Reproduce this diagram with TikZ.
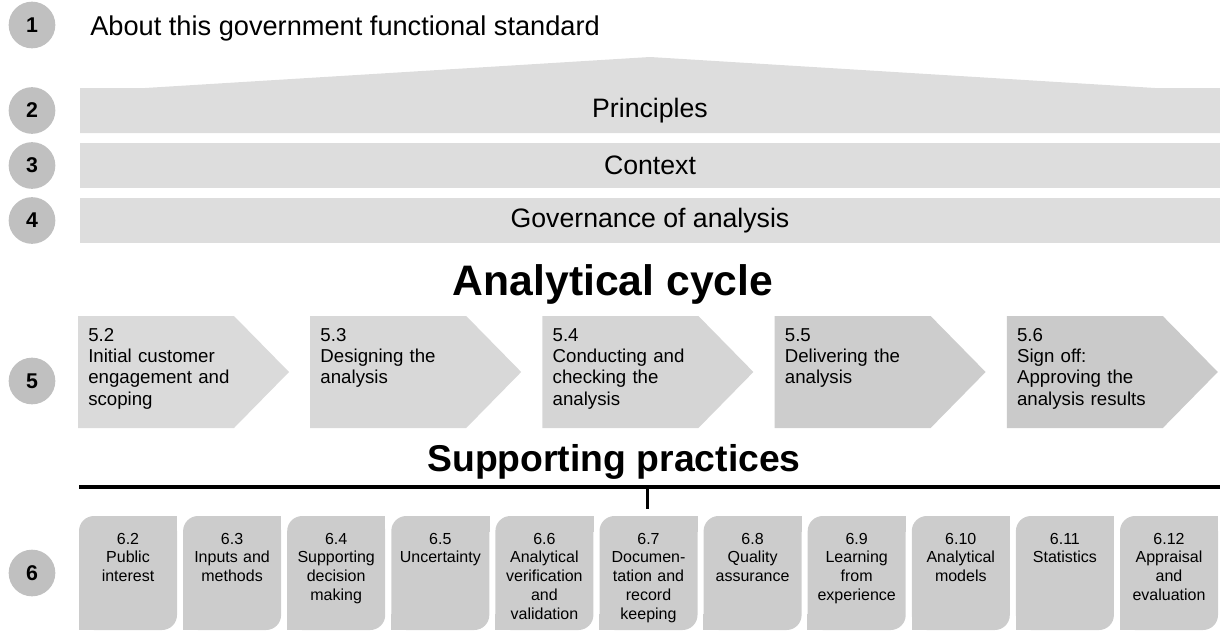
\documentclass[tikz,border=0pt]{standalone}
\usepackage{fontspec}
\setmainfont{Liberation Sans}
\usetikzlibrary{positioning, calc}
\definecolor{numgray}{HTML}{C0C0C0}
\definecolor{bargray}{HTML}{DDDDDD}
\definecolor{boxgray}{HTML}{CCCCCC}
\definecolor{chevA}{HTML}{DADADA}
\definecolor{chevB}{HTML}{D8D8D8}
\definecolor{chevC}{HTML}{D5D5D5}
\definecolor{chevD}{HTML}{CDCDCD}
\definecolor{chevE}{HTML}{CACACA}

\begin{document}
\begin{tikzpicture}[x=0.75pt, y=-0.75pt,
    num/.style={circle, fill=numgray, minimum size=35pt, inner sep=0pt,
        font=\fontsize{16}{16}\selectfont\bfseries},
    bartext/.style={font=\fontsize{20}{24}\selectfont},
    band/.style={bartext, fill=bargray, minimum width=855pt, minimum height=33.75pt, inner sep=0pt},
    title/.style={anchor=base, font=\fontsize{32}{36}\selectfont\bfseries},
    stage/.style={anchor=base west, text width=112pt, align=left, inner sep=0pt,
        font=\fontsize{14}{16}\selectfont},
    pbox/.style={rounded corners=11.25pt, fill=boxgray, minimum width=73.5pt,
        minimum height=85.5pt, inner sep=0pt},
    ptext/.style={anchor=base, text width=74pt, align=center, inner sep=0pt,
        font=\fontsize{12}{14.2}\selectfont}
]
\useasboundingbox (0,0) rectangle (1220,632);

% numbered markers down the left
\foreach \n/\y in {1/25, 2/110.5, 3/165.5, 4/220.5, 5/381, 6/573}
    \node[num] (n\n) at (32,\y) {\n};

\node[bartext, font=\fontsize{20.4}{24}\selectfont, anchor=base west, inner sep=0pt] (about) at (90,35)
    {About this government functional standard};

% roof over the first band
\fill[bargray] (80,133) -- (80,88) -- (145,88) -- (650,57) -- (1155,88) -- (1220,88) -- (1220,133) -- cycle;
\node[bartext] (principles) at (650,110.5) {Principles};
\node[band] (context) at (650,165.5) {Context};
\node[band] (governance) at (650,220.5) {Governance of analysis};

\node[title] (cycle) at (613,295) {Analytical cycle};

% the five stages
\foreach \x/\c/\t [count=\i from 2] in {
    78/chevA/{5.2\\Initial customer\\engagement and\\scoping},
    310.2/chevB/{5.3\\Designing the\\analysis},
    542.4/chevC/{5.4\\Conducting and\\checking the\\analysis},
    774.6/chevD/{5.5\\Delivering the\\analysis},
    1006.8/chevE/{5.6\\Sign off:\\Approving the\\analysis results}} {
  \fill[\c] (\x,316) -- ++(156,0) -- ++(55,56) -- ++(-55,56) -- ++(-156,0) -- cycle;
  \node[stage] (s\i) at (\x+10,341) {\t};
}

\node[title, font=\fontsize{28}{32}\selectfont\bfseries] (support) at (614,471) {Supporting practices};

% rule with its tick
\coordinate (rule-l) at (79,487);
\coordinate (rule-r) at (1220,487);
\coordinate (tick-a) at (647,487);
\coordinate (tick-b) at (647,509);
\draw[line width=3pt] (rule-l) -- (rule-r);
\draw[line width=2.25pt] (tick-a) -- (tick-b);

% practice boxes, rounded top left and bottom right only
\foreach \t [count=\i from 2] in {
    {6.2\\Public\\interest}, {6.3\\Inputs and\\methods},
    {6.4\\Supporting\\decision\\making}, {6.5\\Uncertainty},
    {6.6\\Analytical\\verification\\and\\validation},
    {6.7\\Documen-\\tation and\\record\\keeping},
    {6.8\\Quality\\assurance}, {6.9\\Learning\\from\\experience},
    {6.10\\Analytical\\models}, {6.11\\Statistics},
    {6.12\\Appraisal\\and\\evaluation}} {
  \pgfmathsetmacro\bx{79+104.1*(\i-2)}
  \node[pbox] (p\i) at (\bx+49,573) {};
  \fill[boxgray] (p\i.north east) rectangle ++(-16,16);
  \fill[boxgray] (p\i.south west) rectangle ++(16,-16);
  \node[ptext] (t\i) at (\bx+49,544) {\t};
}
\end{tikzpicture}
\end{document}
